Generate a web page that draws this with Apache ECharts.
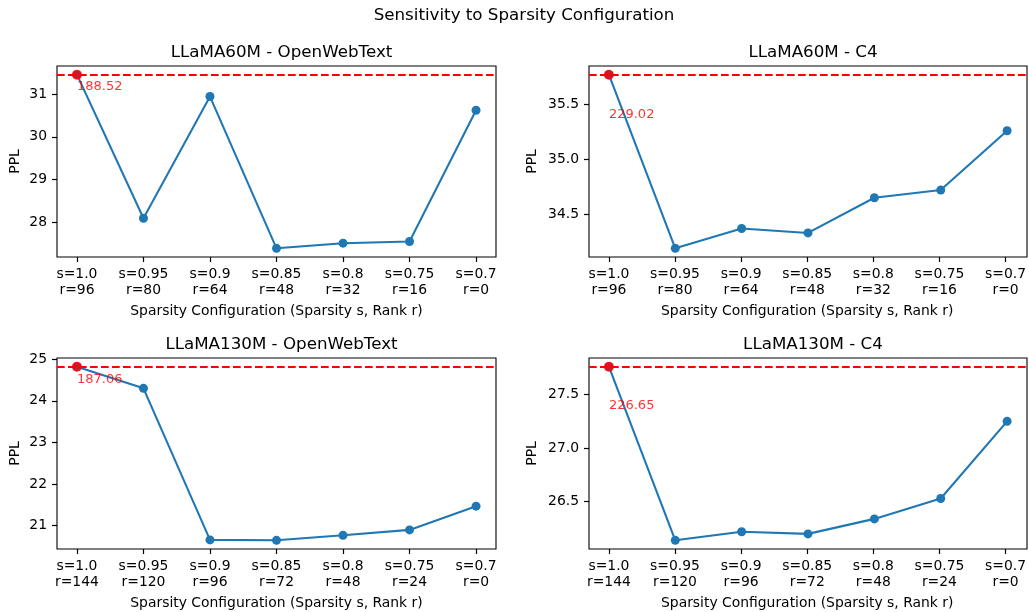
<!DOCTYPE html>
<html>
<head>
<meta charset="utf-8">
<script src="https://cdn.jsdelivr.net/npm/echarts@6/dist/echarts.min.js"></script>
<style>html,body{margin:0;padding:0;background:#fff;}#chart{width:1029px;height:612px;}</style>
</head>
<body>
<div id="chart"></div>
<script>
// ---- data ----
const suptitle = 'Sensitivity to Sparsity Configuration';
const panelTitles = ['LLaMA60M - OpenWebText', 'LLaMA60M - C4', 'LLaMA130M - OpenWebText', 'LLaMA130M - C4'];
const sparsity = ['1.0', '0.95', '0.9', '0.85', '0.8', '0.75', '0.7'];
const rank60 = [96, 80, 64, 48, 32, 16, 0];
const rank130 = [144, 120, 96, 72, 48, 24, 0];
const ppl60OWT = [31.45, 28.10, 30.94, 27.40, 27.52, 27.56, 30.62];
const ppl60C4 = [35.77, 34.19, 34.37, 34.33, 34.65, 34.72, 35.26];
const ppl130OWT = [24.82, 24.30, 20.66, 20.65, 20.77, 20.90, 21.47];
const ppl130C4 = [27.76, 26.14, 26.22, 26.20, 26.34, 26.53, 27.25];
const annotText = ['188.52', '229.02', '187.06', '226.65'];
const annotY = [31.16, 35.41, 24.52, 27.40];
const yTicks60OWT = [28, 29, 30, 31];
const yTicks60C4 = [34.5, 35.0, 35.5];
const yTicks130OWT = [21, 22, 23, 24, 25];
const yTicks130C4 = [26.5, 27.0, 27.5];
const xLabel = 'Sparsity Configuration (Sparsity s, Rank r)';
const yLabel = 'PPL';

// ---- layout ----
const panels = [
  {vals: ppl60OWT, ranks: rank60, ticks: yTicks60OWT, dec: 0, grid: {left: 57, top: 66, width: 439, height: 191}, nameGap: 35},
  {vals: ppl60C4, ranks: rank60, ticks: yTicks60C4, dec: 1, grid: {left: 589, top: 66, width: 438, height: 191}, nameGap: 50},
  {vals: ppl130OWT, ranks: rank130, ticks: yTicks130OWT, dec: 0, grid: {left: 57, top: 358, width: 439, height: 191}, nameGap: 35},
  {vals: ppl130C4, ranks: rank130, ticks: yTicks130C4, dec: 1, grid: {left: 589, top: 358, width: 438, height: 191}, nameGap: 50}
];
const FONT = 'DejaVu Sans';
const BLUE = '#1f77b4';
const XPAD = 0.3;

const option = {
  animation: false,
  backgroundColor: '#fff',
  textStyle: {fontFamily: FONT},
  title: [{text: suptitle, left: 519, top: 2, textAlign: 'center',
           textStyle: {fontFamily: FONT, fontSize: 16.7, fontWeight: 'normal', color: '#000'}}],
  grid: [], xAxis: [], yAxis: [], series: []
};

panels.forEach((p, i) => {
  const g = p.grid;
  const n = p.vals.length;
  const span = n - 1 + 2 * XPAD;
  const inset = g.width * XPAD / span;
  const lo = Math.min(...p.vals), hi = Math.max(...p.vals);
  const pad = (hi - lo) * 0.05;
  const O = 2 * i, I = 2 * i + 1;
  // outer frame grid (data, y axis)
  option.grid.push({left: g.left, top: g.top, width: g.width, height: g.height,
    show: true, borderColor: '#000', borderWidth: 1.1, backgroundColor: 'transparent'});
  // inner grid (x ticks / labels)
  option.grid.push({left: g.left + inset, top: g.top, width: g.width - 2 * inset, height: g.height, show: false});
  option.title.push({text: panelTitles[i], left: g.left + g.width / 2, top: g.top - 27, textAlign: 'center',
    textStyle: {fontFamily: FONT, fontSize: 16.7, fontWeight: 'normal', color: '#000'}});

  option.xAxis[O] = {
    type: 'value', gridIndex: O, min: -XPAD, max: n - 1 + XPAD,
    show: false, splitLine: {show: false}
  };
  option.xAxis[I] = {
    type: 'value', gridIndex: I, min: 0, max: n - 1, interval: 1, position: 'bottom',
    splitLine: {show: false},
    axisLine: {show: false, onZero: false},
    axisTick: {show: true, length: 5, lineStyle: {color: '#000', width: 1.2}},
    axisLabel: {show: true, margin: 9, lineHeight: 16, showMinLabel: true, showMaxLabel: true,
      fontFamily: FONT, fontSize: 13.9, color: '#000',
      formatter: v => 's=' + sparsity[Math.round(v)] + '\nr=' + p.ranks[Math.round(v)]},
    name: xLabel, nameLocation: 'middle', nameGap: 47,
    nameTextStyle: {fontFamily: FONT, fontSize: 13.9, color: '#000'}
  };
  option.yAxis[O] = {
    type: 'value', gridIndex: O, min: lo - pad, max: hi + pad, position: 'left',
    splitLine: {show: false},
    axisLine: {show: false, onZero: false},
    axisTick: {show: true, customValues: p.ticks, length: 5, lineStyle: {color: '#000', width: 1.2}},
    axisLabel: {show: true, customValues: p.ticks, margin: 10,
      fontFamily: FONT, fontSize: 13.9, color: '#000',
      formatter: v => v.toFixed(p.dec)},
    name: yLabel, nameLocation: 'middle', nameRotate: 90, nameGap: p.nameGap,
    nameTextStyle: {fontFamily: FONT, fontSize: 13.9, color: '#000'}
  };
  option.yAxis[I] = {
    type: 'value', gridIndex: I, min: lo - pad, max: hi + pad, show: false, splitLine: {show: false}
  };

  option.series.push({
    type: 'line', xAxisIndex: O, yAxisIndex: O,
    data: p.vals.map((v, k) => [k, v]),
    symbol: 'circle', symbolSize: 9, showSymbol: true,
    lineStyle: {color: BLUE, width: 2.08}, itemStyle: {color: BLUE},
    z: 2,
    markLine: {silent: true, symbol: 'none', label: {show: false},
      lineStyle: {color: '#ff0000', type: [7.7, 3.3], width: 2.08},
      data: [{yAxis: p.vals[0]}], z: 3}
  });
  option.series.push({
    type: 'scatter', xAxisIndex: O, yAxisIndex: O,
    data: [[0, p.vals[0]]], symbolSize: 10, itemStyle: {color: '#ff0000'}, z: 4
  });
  option.series.push({
    type: 'scatter', xAxisIndex: O, yAxisIndex: O,
    data: [[0, annotY[i]]], symbolSize: 0, z: 5,
    label: {show: true, position: 'right', distance: 0, formatter: annotText[i],
      color: '#ff0000', fontFamily: FONT, fontSize: 13}
  });
});

const chart = echarts.init(document.getElementById('chart'), null, {renderer: 'canvas'});
chart.setOption(option);
</script>
</body>
</html>
